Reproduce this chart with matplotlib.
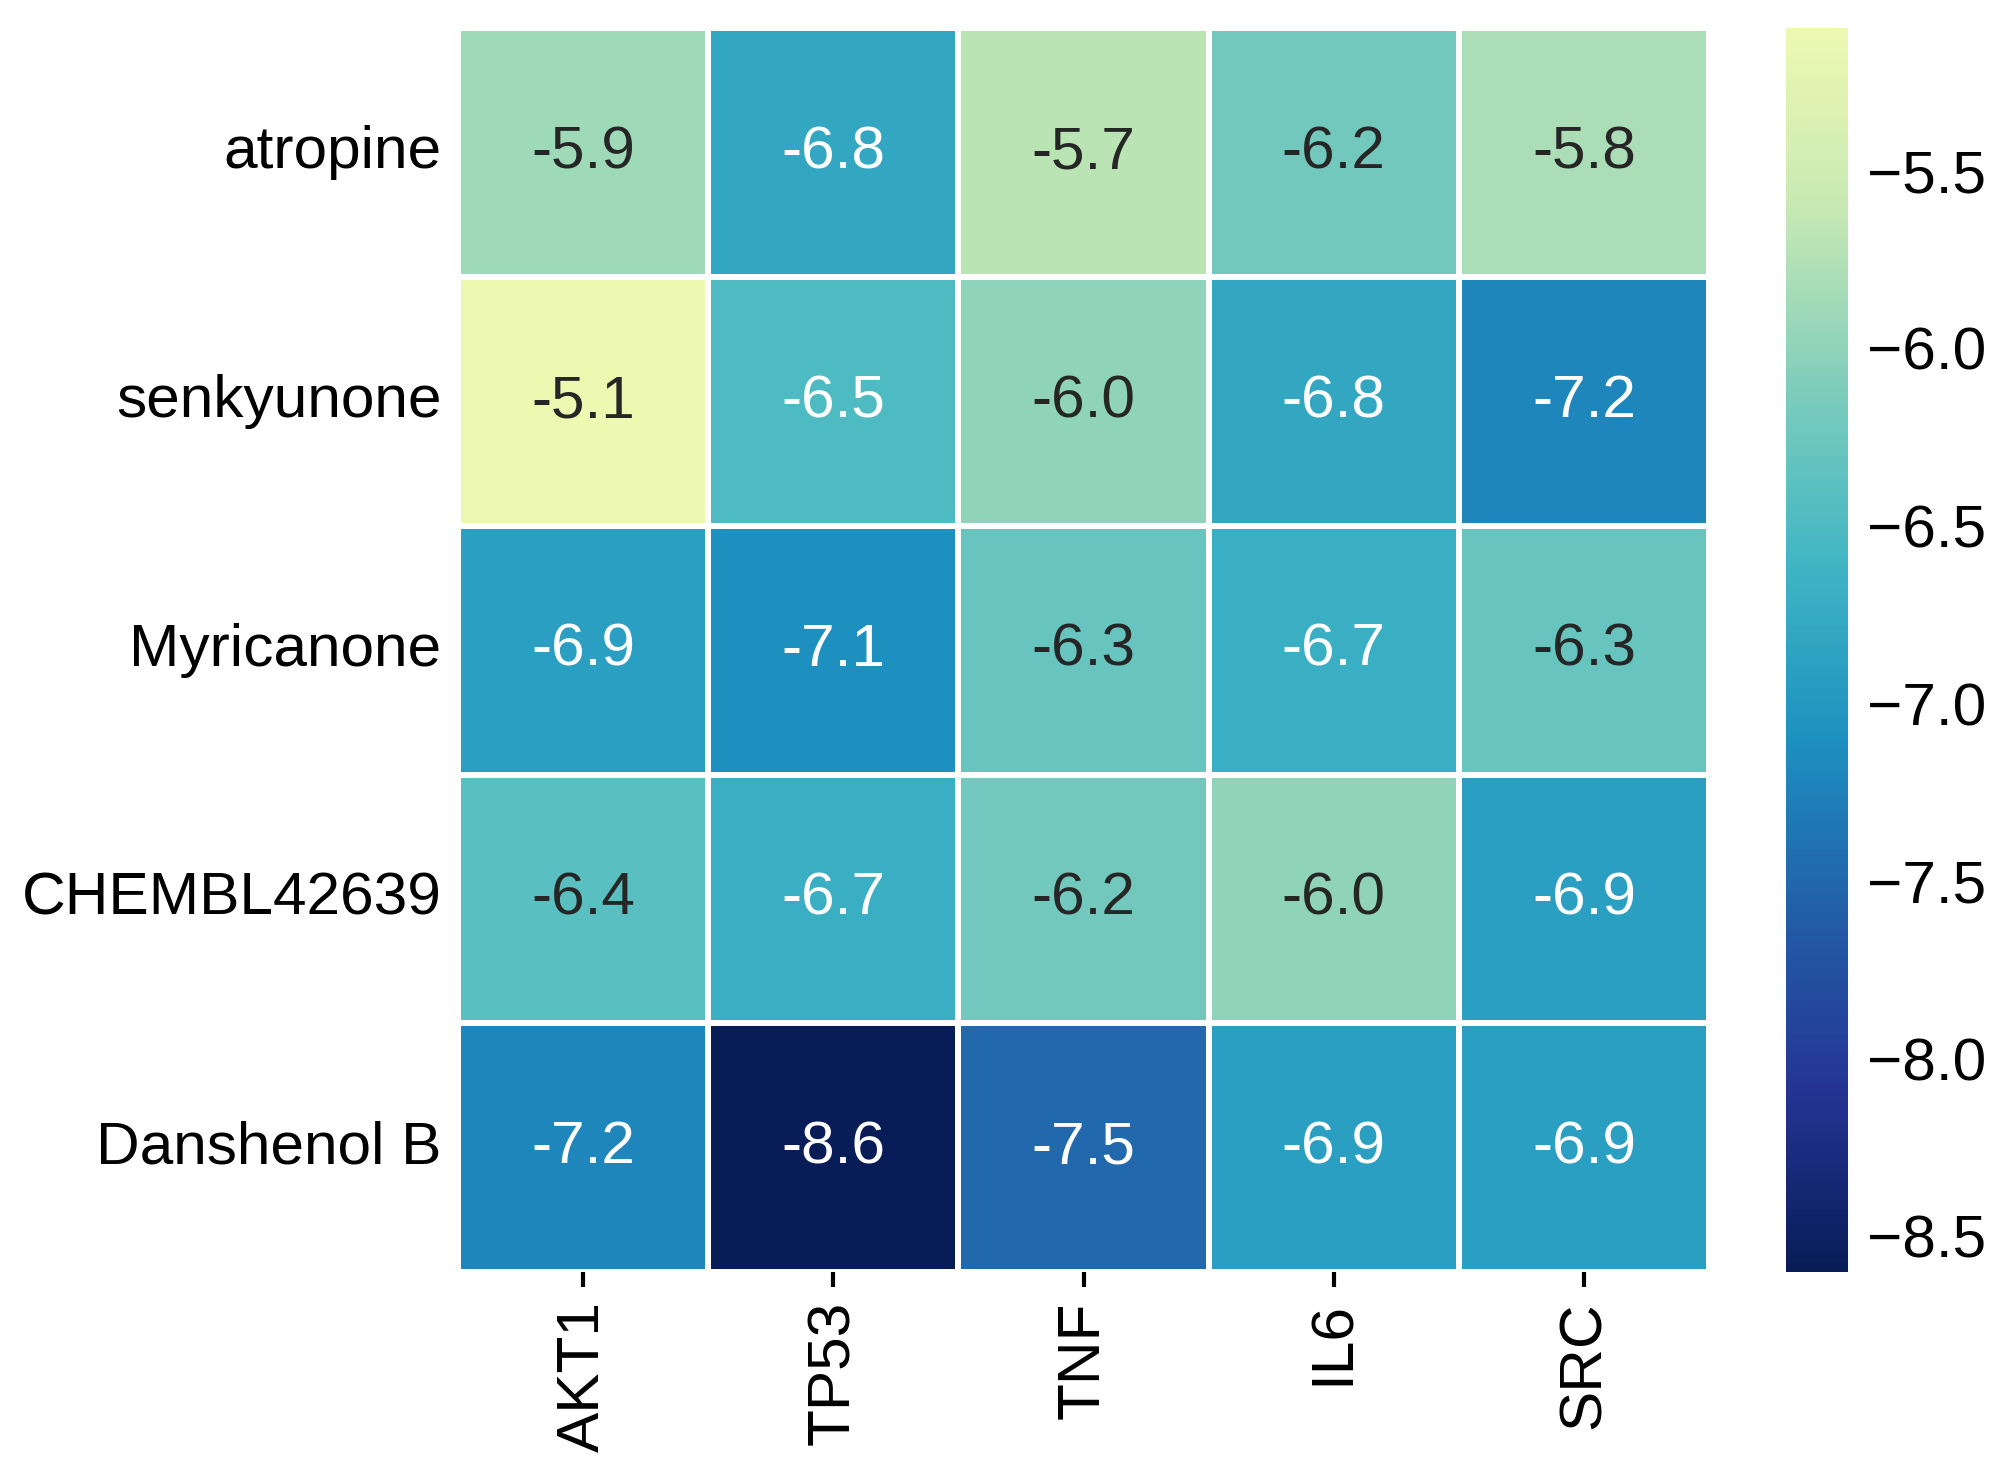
import matplotlib
matplotlib.use("Agg")
import matplotlib.pyplot as plt
from matplotlib.colors import LinearSegmentedColormap
import seaborn as sns
import numpy as np
import pandas as pd

compounds = ["atropine", "senkyunone", "Myricanone", "CHEMBL42639", "Danshenol B"]
targets = ["AKT1", "TP53", "TNF", "IL6", "SRC"]
atropine = [-5.9, -6.8, -5.7, -6.2, -5.8]
senkyunone = [-5.1, -6.5, -6.0, -6.8, -7.2]
myricanone = [-6.9, -7.1, -6.3, -6.7, -6.3]
chembl42639 = [-6.4, -6.7, -6.2, -6.0, -6.9]
danshenol_b = [-7.2, -8.6, -7.5, -6.9, -6.9]
cbar_ticks = [-5.5, -6.0, -6.5, -7.0, -7.5, -8.0, -8.5]

df = pd.DataFrame([atropine, senkyunone, myricanone, chembl42639, danshenol_b],
                  index=compounds, columns=targets)

plt.rcParams['font.family'] = ['Liberation Sans', 'DejaVu Sans']

base = plt.get_cmap("YlGnBu")
cmap = LinearSegmentedColormap.from_list("ylgnbu_trunc_r", base(np.linspace(1.0, 0.125, 256)))

fig = plt.figure(figsize=(2000/300, 1476/300), dpi=300)
ax = fig.add_axes([0.229, 0.1382, 0.6255, 0.8425])
cax = fig.add_axes([0.893, 0.1382, 0.031, 0.8425])

sns.heatmap(df, ax=ax, cbar_ax=cax, cmap=cmap, annot=True, fmt=".1f",
            linewidths=1, linecolor="white", annot_kws={"size": 14.5})
# annotation colours: white on darker cells
for t in ax.texts:
    try:
        v = float(t.get_text())
    except ValueError:
        continue
    t.set_color("white" if v <= -6.45 else "#262626")

ax.tick_params(axis='x', labelsize=14.5, length=3.5, width=1, colors='black')
ax.tick_params(axis='y', labelsize=14.5, length=0, pad=4, colors='black')
plt.setp(ax.get_xticklabels(), rotation=90)
plt.setp(ax.get_yticklabels(), rotation=0)
cax.set_yticks(cbar_ticks)
cax.set_yticklabels([f"{t:.1f}".replace("-", "\u2212") for t in cbar_ticks])
cax.tick_params(labelsize=14.5, length=0, pad=4.5, colors='black')
for s in cax.spines.values():
    s.set_visible(False)

fig.savefig("out.png", dpi=300)
